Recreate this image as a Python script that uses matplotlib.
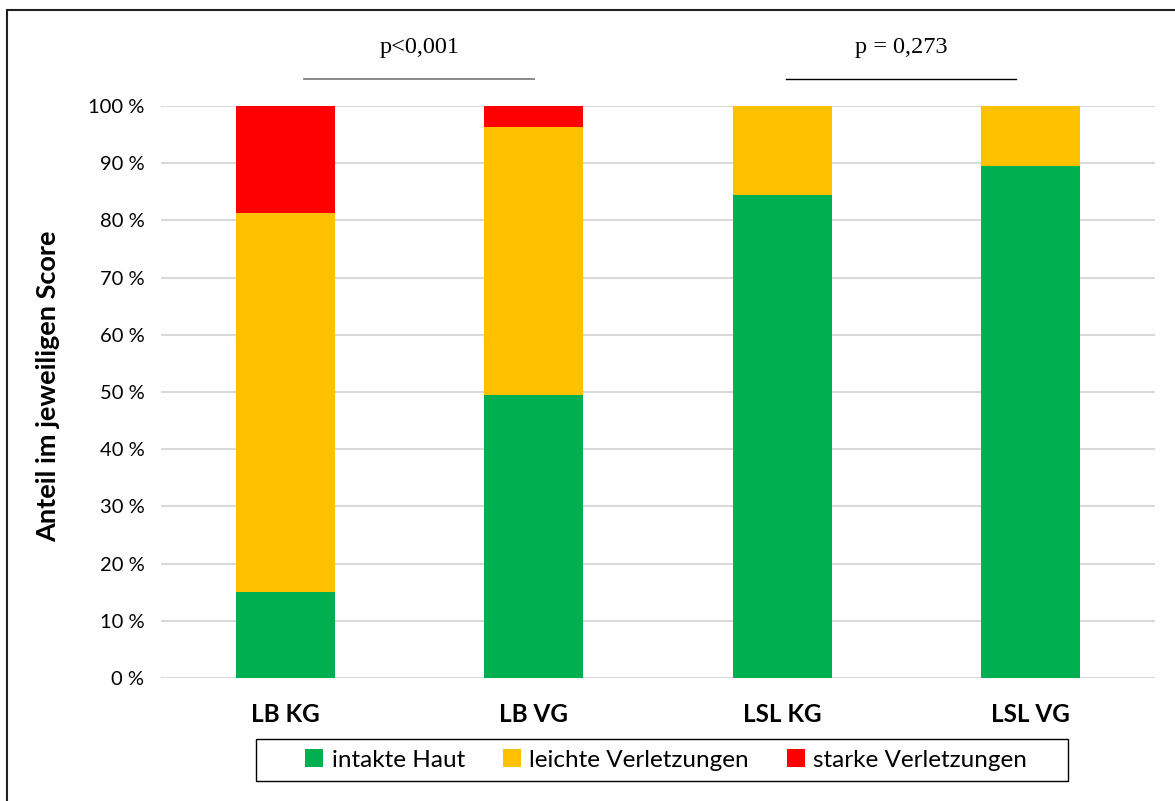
import numpy as np
import matplotlib.pyplot as plt
from matplotlib.patches import Rectangle, Patch

categories = ['LB KG', 'LB VG', 'LSL KG', 'LSL VG']
intakt = [15.0, 49.5, 84.4, 89.5]
leicht = [66.3, 46.8, 15.6, 10.5]
stark = [18.7, 3.7, 0.0, 0.0]
series_names = ['intakte Haut', 'leichte Verletzungen', 'starke Verletzungen']
colors = ['#00b050', '#ffc000', '#ff0000']
yticks = [0, 10, 20, 30, 40, 50, 60, 70, 80, 90, 100]

sans = ['Lato', 'DejaVu Sans']
serif = ['Liberation Serif', 'DejaVu Serif']

fig = plt.figure(figsize=(11.75, 8.01), dpi=100)
ax = fig.add_axes([161/1175, 1 - 678/801, (1155 - 161)/1175, (678 - 106)/801])

x = np.arange(len(categories))
bottom = np.zeros(len(categories))
for vals, c, name in zip([intakt, leicht, stark], colors, series_names):
    ax.bar(x, vals, bottom=bottom, width=0.40, color=c, label=name, zorder=3)
    bottom += np.array(vals)

ax.set_xlim(-0.5, 3.5)
ax.set_ylim(0, 100)
ax.set_yticks(yticks)
ax.set_yticklabels([f'{t} %' for t in yticks], fontsize=14.5, family=sans)
ax.set_xticks(x)
ax.set_xticklabels(categories, fontsize=17.5, fontweight='bold', family=sans)
ax.tick_params(length=0, pad=12)
ax.tick_params(axis='x', pad=18)
ax.grid(axis='y', color='#d9d9d9', linewidth=1.5, zorder=0)
for s in ax.spines.values():
    s.set_visible(False)

ax.set_ylabel('Anteil im jeweiligen Score', fontsize=19.5, fontweight='bold', family=sans)
ax.yaxis.label.set_va('center')
ax.yaxis.set_label_coords(-(161 - 48)/994, 0.51)

# significance markers
ax.plot([0.075, 1.0], [104.7, 104.7], color='#808080', lw=1.3, clip_on=False)
ax.text(0.54, 110.2, 'p<0,001', ha='center', va='center', fontsize=17.5, family=serif)
ax.plot([2.015, 2.94], [104.7, 104.7], color='black', lw=1.0, clip_on=False)
ax.text(2.48, 110.2, 'p = 0,273', ha='center', va='center', fontsize=17.5, family=serif)

# legend without its own frame; the box is drawn separately (wider padding)
handles = [Patch(facecolor=c, edgecolor='none') for c in colors]
fig.legend(handles, series_names, loc='center', bbox_to_anchor=(666/1175, 1 - 760/801),
           ncol=3, frameon=False, prop={'family': sans, 'size': 17.5},
           handlelength=0.75, handleheight=0.75, handletextpad=0.35,
           columnspacing=1.55, borderpad=0.4)
fig.patches.append(Rectangle((256/1175, 1 - 781/801), (1068 - 256)/1175, 42/801,
                             transform=fig.transFigure, fill=False, edgecolor='black', lw=1.0))

# outer chart frame
fig.patches.append(Rectangle((7/1175, -0.05), 1.2, 1 - 10/801 + 0.05, transform=fig.transFigure,
                             fill=False, edgecolor='#202020', lw=1.5))

fig.savefig('out.png', dpi=100)
